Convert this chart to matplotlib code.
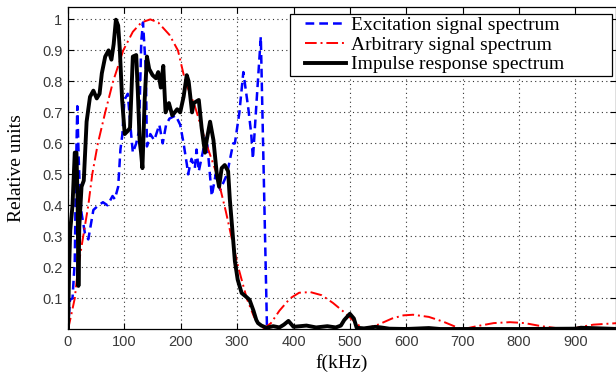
import numpy as np
import matplotlib
matplotlib.use("Agg")
import matplotlib.pyplot as plt
from matplotlib.patches import Rectangle

# excitation signal spectrum (blue dashed)
f_exc = [0, 3.5, 8, 12, 14, 16.5, 19, 21, 24, 30, 36, 45, 54, 62, 70, 79, 83, 89, 93, 96.5,
         100, 106, 112, 115, 121, 126, 130, 133, 138, 140, 146, 153, 162, 168, 174, 180,
         191, 199, 205, 211, 213, 219, 225, 228, 232, 240, 246, 255, 262, 270, 282, 293,
         296, 304, 311, 320, 325, 328, 335, 342, 353, 355]
v_exc = [0, 0.095, 0.1, 0.22, 0.5, 0.72, 0.55, 0.45, 0.375, 0.31, 0.29, 0.385, 0.4, 0.41,
         0.4, 0.43, 0.42, 0.46, 0.58, 0.63, 0.74, 0.76, 0.63, 0.57, 0.6, 0.64, 0.93, 0.99,
         0.84, 0.59, 0.63, 0.61, 0.66, 0.6, 0.66, 0.68, 0.69, 0.66, 0.6, 0.53, 0.5, 0.55,
         0.52, 0.58, 0.51, 0.58, 0.62, 0.43, 0.5, 0.45, 0.5, 0.6, 0.6, 0.7, 0.83, 0.71,
         0.63, 0.55, 0.75, 0.944, 0.0, 0.0]

# arbitrary signal spectrum (red dash-dot)
f_arb = [0, 5, 12, 18, 27, 36, 43, 53, 66, 80, 98, 115, 130, 146, 160, 180, 195, 208, 225,
         245, 264, 280, 292, 302, 317, 330, 346, 360, 375, 394, 410, 430, 450, 470, 490,
         505, 524, 550, 575, 595, 612, 640, 665, 685, 699, 725, 755, 784, 810, 840, 870,
         891, 910, 932, 975]
v_arb = [0, 0.04, 0.1, 0.2, 0.3, 0.4, 0.5, 0.6, 0.7, 0.8, 0.9, 0.96, 0.99, 1.0, 0.99, 0.95,
         0.9, 0.8, 0.72, 0.6, 0.5, 0.38, 0.28, 0.2, 0.1, 0.04, 0.0, 0.02, 0.06, 0.1, 0.118,
         0.12, 0.11, 0.085, 0.055, 0.03, 0.0, 0.015, 0.035, 0.045, 0.047, 0.04, 0.025, 0.01,
         0.0, 0.01, 0.02, 0.023, 0.02, 0.01, 0.003, 0.0, 0.008, 0.015, 0.02]

# impulse response spectrum (black solid)
f_imp = [0, 2, 4, 8, 12, 15, 17, 18.5, 20, 24, 28, 33, 39, 45, 51, 56, 60, 66, 72, 77, 81,
         85, 89, 92, 96, 100.6, 106, 110, 115, 121, 124, 127, 129.6, 132, 136, 140, 144,
         150, 156, 160, 164.6, 169, 173, 179, 185, 193.6, 199, 205, 210.6, 214, 220, 223,
         232, 237, 243, 246, 252, 258, 264, 268, 272.5, 278, 284, 287, 292, 296, 301, 308,
         316, 322, 329, 334, 337, 343, 352, 364, 375, 383, 391, 400, 423, 440, 460, 475,
         484, 490, 500, 507, 512, 525, 545, 555, 570, 600, 640, 660, 700, 800, 900, 910,
         975]
v_imp = [0, 0.2, 0.32, 0.4, 0.57, 0.57, 0.42, 0.14, 0.33, 0.46, 0.48, 0.67, 0.75, 0.77,
         0.745, 0.76, 0.826, 0.88, 0.9, 0.87, 0.92, 0.999, 0.98, 0.9, 0.74, 0.63, 0.64, 0.65,
         0.88, 0.885, 0.76, 0.61, 0.57, 0.52, 0.74, 0.88, 0.84, 0.82, 0.81, 0.83, 0.78,
         0.85, 0.7, 0.73, 0.69, 0.71, 0.7, 0.75, 0.82, 0.8, 0.7, 0.73, 0.74, 0.65, 0.57,
         0.61, 0.67, 0.61, 0.5, 0.46, 0.52, 0.53, 0.51, 0.42, 0.31, 0.22, 0.16, 0.117,
         0.105, 0.095, 0.06, 0.03, 0.02, 0.012, 0.005, 0.01, 0.006, 0.015, 0.027, 0.008,
         0.012, 0.006, 0.01, 0.006, 0.012, 0.03, 0.05, 0.035, 0.005, 0.003, 0.008, 0.006,
         0.002, 0.001, 0.004, 0.001, 0.001, 0.001, 0.002, 0.005, 0.001]

xticks = [0, 100, 200, 300, 400, 500, 600, 700, 800, 900]
yticks = [0.1, 0.2, 0.3, 0.4, 0.5, 0.6, 0.7, 0.8, 0.9, 1.0]
ytick_labels = ["0.1", "0.2", "0.3", "0.4", "0.5", "0.6", "0.7", "0.8", "0.9", "1"]

W, H = 616, 373
fig = plt.figure(figsize=(W / 100, H / 100), dpi=100)
ax = fig.add_axes([68 / W, (H - 329.3) / H, 548 / W, 322 / H])

ax.plot(f_exc, v_exc, color="#0000ff", linestyle=(0, (3.5, 2)), linewidth=1.8,
        label="Excitation signal spectrum")
ax.plot(f_arb, v_arb, color="#ff0000", linestyle=(0, (6, 2, 1, 2)), linewidth=1.4,
        label="Arbitrary signal spectrum")
ax.plot(f_imp, v_imp, color="black", linewidth=2.8, label="Impulse response spectrum")

ax.set_xlim(0, 972)
ax.set_ylim(0, 1.039)
ax.set_xticks(xticks)
ax.set_yticks(yticks)
ax.set_yticklabels(ytick_labels)
ax.tick_params(direction="in", top=True, right=True, length=4, labelsize=10.5,
               labelcolor="#3a3a3a", pad=4)
for lab in ax.get_xticklabels() + ax.get_yticklabels():
    lab.set_family("Liberation Sans")
ax.grid(True, linestyle=(0, (1, 3)), color="#333333", linewidth=0.8)
for s in ax.spines.values():
    s.set_linewidth(0.9)

ax.set_xlabel("f(kHz)", family="Liberation Serif", fontsize=14, labelpad=4)
ax.set_ylabel("Relative units", family="Liberation Serif", fontsize=14, labelpad=12)

# legend box drawn separately (MATLAB style wide frame)
frame = Rectangle((290 / W, 1 - 76 / H), 322 / W, 62 / H, transform=fig.transFigure,
                  facecolor="white", edgecolor="black", linewidth=0.9, zorder=4)
fig.add_artist(frame)
leg = ax.legend(loc="upper left", bbox_to_anchor=(303 / W, 1 - 14 / H),
                bbox_transform=fig.transFigure, borderaxespad=0, frameon=False,
                prop={"family": "Liberation Serif", "size": 14},
                handlelength=2.1, handletextpad=0.25, labelspacing=0.12, borderpad=0.1)
leg.set_zorder(5)
fig.add_artist(leg)

fig.savefig("out.png", dpi=100)
